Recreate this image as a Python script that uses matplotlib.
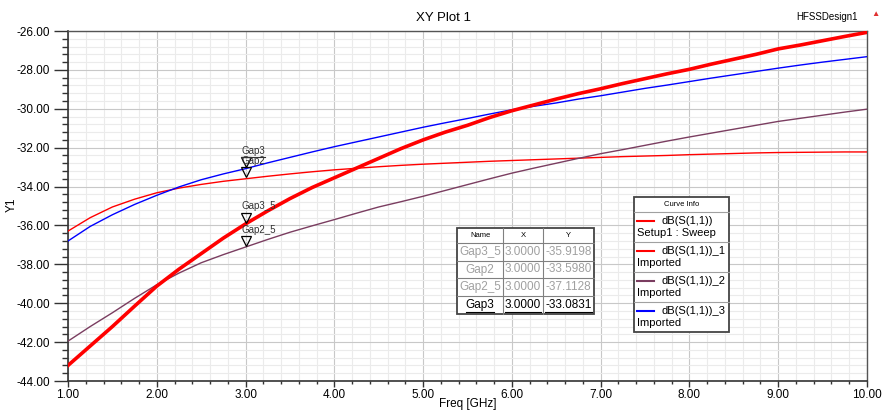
import matplotlib
matplotlib.use("Agg")
import matplotlib.pyplot as plt
from matplotlib.lines import Line2D
from matplotlib.patches import Rectangle
from matplotlib.ticker import MultipleLocator, FormatStrFormatter
from matplotlib.transforms import offset_copy

plt.rcParams['font.family'] = ['Liberation Sans', 'DejaVu Sans']

W, H = 882, 413

freq = [1.0, 1.25, 1.5, 1.75, 2.0, 2.25, 2.5, 2.75, 3.0, 3.25, 3.5, 3.75,
        4.0, 4.25, 4.5, 4.75, 5.0, 5.25, 5.5, 5.75, 6.0, 6.25, 6.5, 6.75,
        7.0, 7.25, 7.5, 7.75, 8.0, 8.25, 8.5, 8.75, 9.0, 9.25, 9.5, 9.75, 10.0]
sweep = [-43.2, -42.2, -41.2, -40.15, -39.12, -38.25, -37.45, -36.65, -35.92,
         -35.25, -34.62, -34.05, -33.55, -33.05, -32.55, -32.05, -31.6, -31.2,
         -30.85, -30.45, -30.1, -29.8, -29.5, -29.22, -28.97, -28.7, -28.45,
         -28.2, -27.97, -27.7, -27.45, -27.2, -26.92, -26.72, -26.5, -26.28, -26.07]
imp1 = [-36.29, -35.6, -35.05, -34.65, -34.32, -34.08, -33.89, -33.73, -33.6,
        -33.47, -33.35, -33.24, -33.14, -33.06, -32.98, -32.91, -32.85, -32.8,
        -32.75, -32.7, -32.66, -32.62, -32.58, -32.54, -32.5, -32.46, -32.43,
        -32.4, -32.36, -32.33, -32.3, -32.27, -32.25, -32.24, -32.23, -32.22, -32.22]
imp2 = [-41.95, -41.2, -40.49, -39.75, -39.05, -38.45, -37.92, -37.5, -37.11,
        -36.72, -36.35, -36.02, -35.7, -35.37, -35.05, -34.78, -34.5, -34.2,
        -33.9, -33.6, -33.31, -33.05, -32.8, -32.55, -32.31, -32.1, -31.88,
        -31.66, -31.45, -31.25, -31.05, -30.85, -30.65, -30.49, -30.33, -30.17, -30.02]
imp3 = [-36.8, -36.05, -35.45, -34.92, -34.45, -34.02, -33.65, -33.35, -33.08,
        -32.78, -32.5, -32.22, -31.95, -31.7, -31.45, -31.2, -30.95, -30.72,
        -30.5, -30.27, -30.05, -29.87, -29.7, -29.5, -29.33, -29.14, -28.95,
        -28.78, -28.6, -28.42, -28.25, -28.08, -27.91, -27.75, -27.6, -27.46, -27.32]

marker_names = ["Gap3_5", "Gap2", "Gap2_5", "Gap3"]
marker_x = [3.0, 3.0, 3.0, 3.0]
marker_y = [-35.9198, -33.5980, -37.1128, -33.0831]

legend_names = ["dB(S(1,1))", "dB(S(1,1))_1", "dB(S(1,1))_2", "dB(S(1,1))_3"]
legend_sub = ["Setup1 : Sweep", "Imported", "Imported", "Imported"]
colors = ["#ff0000", "#ff0000", "#7a3d60", "#0000ff"]


def px(x, y):
    return x / W, 1 - y / H


fig = plt.figure(figsize=(W / 100, H / 100), dpi=100)
ax = fig.add_axes([68 / W, 1 - 381 / H, (867 - 68) / W, (381 - 31) / H])

ax.plot(freq, imp1, color=colors[1], lw=1.0, zorder=3)
ax.plot(freq, imp2, color=colors[2], lw=1.0, zorder=3)
ax.plot(freq, imp3, color=colors[3], lw=1.0, zorder=3)
ax.plot(freq, sweep, color=colors[0], lw=2.6, zorder=4)

ax.set_xlim(1, 10)
ax.set_ylim(-44, -26)
ax.xaxis.set_major_locator(MultipleLocator(1))
ax.xaxis.set_minor_locator(MultipleLocator(0.2))
ax.yaxis.set_major_locator(MultipleLocator(2))
ax.yaxis.set_minor_locator(MultipleLocator(0.4))
ax.xaxis.set_major_formatter(FormatStrFormatter('%.2f'))
ax.yaxis.set_major_formatter(FormatStrFormatter('%.2f'))
ax.grid(which='major', color='#c8c8c8', lw=0.8)
ax.grid(which='minor', color='#ebebeb', lw=0.8)
ax.set_axisbelow(True)
ax.tick_params(axis='y', which='major', length=10, width=1, pad=3, labelsize=8.5, color='#333333')
ax.tick_params(axis='y', which='minor', length=4, width=1, color='#333333')
ax.tick_params(axis='x', which='major', length=4, width=1, pad=2, labelsize=8.5, color='#333333')
ax.tick_params(axis='x', which='minor', length=2, width=1, color='#333333')
for s in ['left', 'bottom']:
    ax.spines[s].set_color('#333333')
    ax.spines[s].set_linewidth(1.2)
for s in ['top', 'right']:
    ax.spines[s].set_color('#555555')
    ax.spines[s].set_linewidth(1.0)

# markers: tip of the triangle sits on the curve
tri = offset_copy(ax.transData, fig=fig, y=4.5, units='points')
ax.plot(marker_x, marker_y, linestyle='none', marker='v', ms=7, mfc='none',
        mec='black', mew=0.9, transform=tri, zorder=5)
mlabels = {}
for name, mx, my in zip(marker_names, marker_x, marker_y):
    mlabels[name] = ax.annotate(name, (mx, my), xytext=(-3, 9), textcoords='offset points',
                                fontsize=7, color='#333333', va='bottom', ha='left', zorder=6)

# titles
fig.text(*px(443, 18), "XY Plot 1", ha='center', va='center', fontsize=9.5)
fig.text(*px(858, 17), "HFSSDesign1", ha='right', va='center', fontsize=7)
fig.text(*px(875, 15), "\u25b2", ha='center', va='center', fontsize=6, color='#e03030')
fig.text(*px(12, 205), "Y1", ha='center', va='center', fontsize=8.5, rotation=90)
fig.text(*px(468, 404), "Freq [GHz]", ha='center', va='center', fontsize=8.5)

# marker table
col_x = [457, 503, 543, 594]
row_y = [228, 243, 261, 278, 296, 314]
for x in col_x[1:-1]:
    fig.add_artist(Line2D([x / W, x / W], [1 - row_y[0] / H, 1 - row_y[-1] / H], color='#808080', lw=0.8))
for y in row_y[1:-1]:
    fig.add_artist(Line2D([col_x[0] / W, col_x[-1] / W], [1 - y / H, 1 - y / H], color='#808080', lw=0.8))
fig.add_artist(Rectangle(px(col_x[0], row_y[-1]), (col_x[-1] - col_x[0]) / W,
                         (row_y[-1] - row_y[0]) / H, fill=True, facecolor='white',
                         edgecolor='#444444', lw=1.3, zorder=0.5))
headers = ["Name", "X", "Y"]
for i, h in enumerate(headers):
    fig.text(*px((col_x[i] + col_x[i + 1]) / 2, (row_y[0] + row_y[1]) / 2), h,
             ha='center', va='center', fontsize=5.5)
table_texts = []
for r, (name, mx, my) in enumerate(zip(marker_names, marker_x, marker_y)):
    vals = [name, "%.4f" % mx, "%.4f" % my]
    c = 'black' if name == "Gap3" else '#a0a0a0'
    yc = (row_y[r + 1] + row_y[r + 2]) / 2
    for i, v in enumerate(vals):
        t = fig.text(*px((col_x[i] + col_x[i + 1]) / 2, yc), v, ha='center', va='center',
                     fontsize=8.5, color=c)
        if name == "Gap3":
            table_texts.append(t)

# curve info legend
lx0, lx1 = 634, 729
ly = [197, 212, 242, 272, 302, 332]
fig.add_artist(Rectangle(px(lx0, ly[-1]), (lx1 - lx0) / W, (ly[-1] - ly[0]) / H,
                         facecolor='white', edgecolor='#444444', lw=1.3, zorder=0.5))
for y in ly[1:-1]:
    fig.add_artist(Line2D([lx0 / W, lx1 / W], [1 - y / H, 1 - y / H], color='#a0a0a0', lw=0.8))
fig.text(*px((lx0 + lx1) / 2, 204.5), "Curve Info", ha='center', va='center', fontsize=5.5)
for i, (nm, sub, c) in enumerate(zip(legend_names, legend_sub, colors)):
    top = ly[i + 1]
    fig.add_artist(Line2D([637 / W, 654 / W], [1 - (top + 9) / H] * 2, color=c, lw=1.5))
    fig.text(*px(662, top + 9), nm, ha='left', va='center', fontsize=8)
    fig.text(*px(637, top + 21), sub, ha='left', va='center', fontsize=8)

# underline the selected marker
fig.canvas.draw()
r = fig.canvas.get_renderer()
for t in [mlabels["Gap3"]] + table_texts:
    bb = t.get_window_extent(r)
    y0 = (bb.y0 - 0.5) / fig.bbox.height
    fig.add_artist(Line2D([bb.x0 / fig.bbox.width, bb.x1 / fig.bbox.width], [y0, y0],
                          color=t.get_color(), lw=0.8))

fig.savefig("out.png", dpi=100)
